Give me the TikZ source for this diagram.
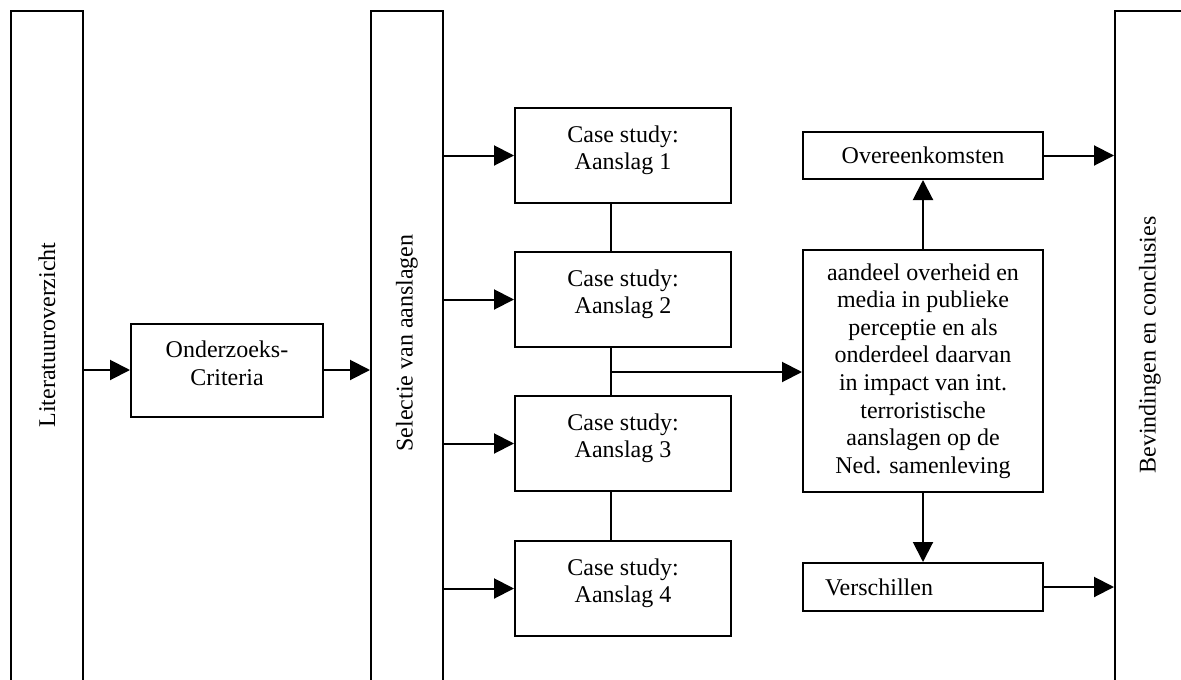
\documentclass[tikz,border=0pt]{standalone}
\usepackage{fontspec}
\setmainfont{Liberation Serif}
\usetikzlibrary{arrows.meta}
\begin{document}
\begin{tikzpicture}[x=1pt,y=-1pt,
  ln/.style={line width=2pt},
  arr/.style={line width=2pt,-{Triangle[length=20pt,width=20pt]}},
  txt/.style={font=\fontsize{24}{27.6}\selectfont},
  col/.style={draw,line width=2pt,minimum width=72pt,minimum height=690pt,inner sep=0pt},
  bx/.style={draw,line width=2pt,txt,align=center,inner sep=0pt},
  casebox/.style={bx,minimum width=216pt,minimum height=95pt},
  coltxt/.style={txt,rotate=90,inner sep=0pt}
]
\useasboundingbox (0,0) rectangle (1181,680);
\clip (0,0) rectangle (1181,680);
% tall columns
\node[col] (c1) at (47,356) {};
\node[col] (c2) at (407,356) {};
\node[col,minimum width=100pt] (c3) at (1165,356) {};
\node[coltxt] (t1) at (47,335) {Literatuuroverzicht};
\node[coltxt] (t2) at (407,343) {Selectie van aanslagen};
\node[coltxt] (t3) at (1150,345) {Bevindingen en conclusies};
% boxes
\node[bx,minimum width=192pt,minimum height=93pt] (onz) at (227,370) {Onderzoeks-\\Criteria\\[-14pt]\mbox{}};
\node[casebox] (cs1) at (623,155.5) {Case study:\\Aanslag 1\\[-12pt]\mbox{}};
\node[casebox] (cs2) at (623,299.5) {Case study:\\Aanslag 2\\[-12pt]\mbox{}};
\node[casebox] (cs3) at (623,443.5) {Case study:\\Aanslag 3\\[-12pt]\mbox{}};
\node[casebox] (cs4) at (623,588.5) {Case study:\\Aanslag 4\\[-12pt]\mbox{}};
\node[bx,minimum width=240pt,minimum height=242pt] (big) at (923,371) {aandeel overheid en\\media in publieke\\perceptie en als\\onderdeel daarvan\\in impact van int.\\terroristische\\aanslagen op de\\Ned. samenleving};
\node[bx,minimum width=240pt,minimum height=47pt] (ov) at (923,155.5) {Overeenkomsten};
\node[draw,line width=2pt,txt,minimum width=240pt,minimum height=48pt,text width=196pt,inner xsep=22pt,inner ysep=0pt,align=left] (vs) at (923,587) {Verschillen};
% connectors
\coordinate (j) at (611,372);
\draw[arr] (onz.west -| c1.east) -- (onz.west);
\draw[arr] (onz.east) -- (onz.east -| c2.west);
\draw[arr] (cs1.west -| c2.east) -- (cs1.west);
\draw[arr] (cs2.west -| c2.east) -- (cs2.west);
\draw[arr] (cs3.west -| c2.east) -- (cs3.west);
\draw[arr] (cs4.west -| c2.east) -- (cs4.west);
\draw[ln] (cs1.south -| j) -- (cs2.north -| j);
\draw[ln] (cs2.south -| j) -- (cs3.north -| j);
\draw[ln] (cs3.south -| j) -- (cs4.north -| j);
\draw[arr] (j) -- (j -| big.west);
\draw[arr] (big.north) -- (ov.south);
\draw[arr] (big.south) -- (vs.north);
\draw[arr] (ov.east) -- (ov.east -| c3.west);
\draw[arr] (vs.east) -- (vs.east -| c3.west);
\end{tikzpicture}
\end{document}
